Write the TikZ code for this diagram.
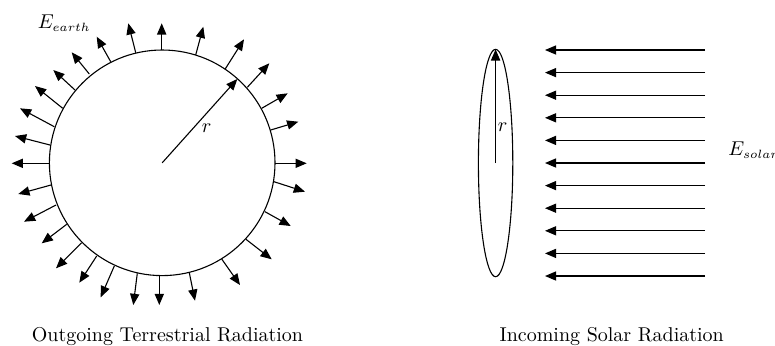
\documentclass[tikz,border=0pt]{standalone}
\usetikzlibrary{arrows.meta}
\DeclareMathSizes{10}{10}{5.6}{5}
\begin{document}
\begin{tikzpicture}[x=0.5pt,y=-0.5pt,
  ray/.style={line width=0.55pt,-{Triangle[length=5.6pt,width=4.6pt]}},
  outline/.style={line width=0.55pt},
  lbl/.style={inner sep=0pt,font=\normalsize}]
\useasboundingbox (0,0) rectangle (775,345);
% Earth
\coordinate (c) at (162.2,162.8);
\draw[outline] (c) circle[radius=56.4pt];
\foreach \bx/\by/\tx/\ty in {
 49.3/163.3/11.7/163.3, 50/145/15/136, 54.3/126.7/20/108.3, 62.7/108.3/35/86,
 75/90/53.3/70, 89.3/74/71.7/52.3, 110.7/61.7/96.7/36.7, 135.7/52.7/128.3/23.3,
 161.7/50/161.7/23.3, 195.7/55/203.3/26.7, 225/69.3/244/39.3,
 247.3/87.3/269.3/63.3, 261.7/108.3/287.7/93.3, 270.7/130/298.3/121.7,
 275/163.3/306.7/163.3, 274/181.7/305/191.7, 265/211.7/290.7/226,
 246/239.3/271.7/259.3, 221.7/259/240/285, 189.3/272.7/195/300.7,
 159.3/275.5/159.3/305, 137.3/273.3/133.3/305, 114.3/266/100.7/297.3,
 96.7/256/79.3/282.7, 81.7/242.7/56/268.3, 66.7/224.3/41.7/243.3,
 56/205/24/221.7, 51/185/18.3/194}
  \draw[ray] (\bx,\by) -- (\tx,\ty);
\coordinate (rtip) at (237.3,79);
\draw[ray] (c) -- (rtip);
\node[lbl] (rl) at (206.7,128.3) {$r$};
\node[lbl,anchor=base west] (ee) at (37.5,28.3) {$E_{earth}$};
\node[lbl,anchor=base] (t1) at (167.5,341) {Outgoing Terrestrial Radiation};
% Sun side
\coordinate (s) at (495.6,163);
\draw[outline] (s) ellipse[x radius=8.6pt,y radius=56.85pt];
\coordinate (stop) at (495.6,49.3);
\draw[ray] (s) -- (stop);
\node[lbl] (r2) at (502.7,126.7) {$r$};
\foreach \i in {0,...,10}
  \draw[ray] (705,50+22.6*\i) -- (545,50+22.6*\i);
\node[lbl,anchor=base west] (es) at (728,155.7) {$E_{solar}$};
\node[lbl,anchor=base] (t2) at (611.7,341) {Incoming Solar Radiation};
\end{tikzpicture}
\end{document}
